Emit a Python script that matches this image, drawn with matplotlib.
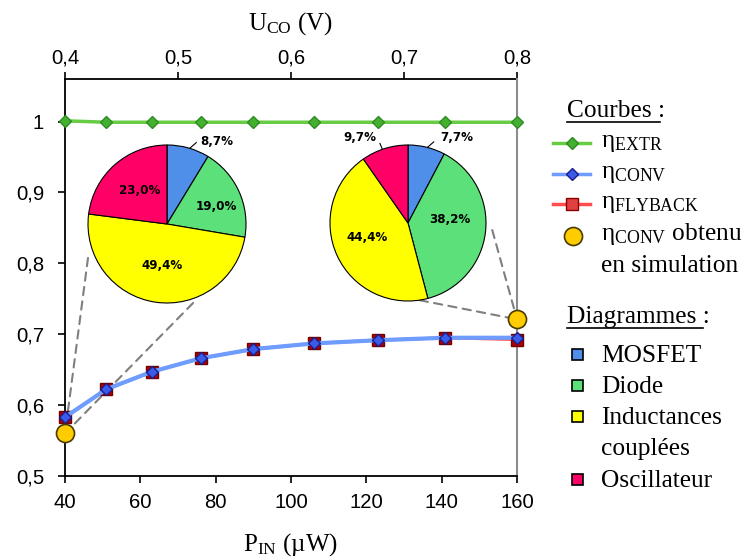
import matplotlib
matplotlib.use('Agg')
import matplotlib.pyplot as plt
from matplotlib.lines import Line2D
from matplotlib.patches import Rectangle, ConnectionPatch
from matplotlib.ticker import FuncFormatter

plt.rcParams['font.family'] = ['Liberation Sans', 'DejaVu Sans']
plt.rcParams['mathtext.fontset'] = 'custom'
plt.rcParams['mathtext.rm'] = 'Liberation Serif'
plt.rcParams['mathtext.it'] = 'Liberation Serif:italic'
plt.rcParams['mathtext.bf'] = 'Liberation Serif:bold'

# ---------------- data ----------------
p_in = [40, 51, 63, 76, 90, 106, 123, 141, 160]
eta_extr = [1.001, 0.999, 0.999, 0.999, 0.999, 0.999, 0.999, 0.999, 0.999]
eta_conv = [0.583, 0.6225, 0.647, 0.666, 0.679, 0.687, 0.6915, 0.695, 0.695]
eta_flyback = [0.583, 0.6225, 0.647, 0.666, 0.679, 0.687, 0.6915, 0.695, 0.6925]
sim_p = [40, 160]
sim_eta = [0.560, 0.721]

pie_categories = ['MOSFET', 'Diode', 'Inductances\ncouplées', 'Oscillateur']
pie_40uw = [8.7, 19.0, 49.4, 23.0]
pie_160uw = [7.7, 38.2, 44.4, 9.7]

p_ticks = [40, 60, 80, 100, 120, 140, 160]
u_ticks = [0.4, 0.5, 0.6, 0.7, 0.8]
y_ticks = [0.5, 0.6, 0.7, 0.8, 0.9, 1.0]

# ---------------- styles ----------------
W, H = 745, 560
pie_colors = ['#4F8FEA', '#5BE07A', '#FFFF00', '#FF0066']
SERIF = 'Liberation Serif'


def fx(x):
    return x / W


def fy(y):
    return 1 - y / H


def comma(v, pos=None):
    if abs(v - 1.0) < 1e-9:
        return '1'
    return f'{v:.1f}'.replace('.', ',')


fig = plt.figure(figsize=(W / 100, H / 100), dpi=100)
ax = fig.add_axes([fx(65), fy(476), (517 - 65) / W, (476 - 79) / H])
ax.set_xlim(40, 160)
ax.set_ylim(0.5, 1.06)

for s in ['left', 'bottom']:
    ax.spines[s].set_linewidth(1.3)
    ax.spines[s].set_color('black')
ax.spines['top'].set_visible(False)
ax.spines['right'].set_color('#8c8c8c')
ax.spines['right'].set_linewidth(1.5)

ax.set_xticks(p_ticks)
ax.set_yticks(y_ticks)
ax.yaxis.set_major_formatter(FuncFormatter(comma))
ax.tick_params(axis='x', direction='out', length=5, width=1.2, labelsize=14.6, pad=7)
ax.tick_params(axis='y', direction='out', length=5, width=1.2, labelsize=14.6, pad=10)

sec = ax.secondary_xaxis('top', functions=(lambda p: 0.4 + (p - 40) / 300.0,
                                           lambda u: 40 + (u - 0.4) * 300.0))
sec.set_xticks(u_ticks)
sec.xaxis.set_major_formatter(FuncFormatter(lambda v, pos: f'{v:.1f}'.replace('.', ',')))
sec.tick_params(direction='out', length=5, width=1.2, labelsize=14.6, pad=3)
sec.spines['top'].set_linewidth(1.3)

ax.set_xlabel(r'P$_{\mathrm{IN}}$ (µW)', fontsize=18, family=SERIF, labelpad=14)
sec.set_xlabel(r'U$_{\mathrm{CO}}$ (V)', fontsize=18, family=SERIF, labelpad=14)

# ---------------- curves ----------------
ax.plot(p_in, eta_flyback, color='#FF4D4D', lw=2.2, marker='s', ms=8.5,
        mfc='#B00000', mec='#700000', mew=1, zorder=3, clip_on=False)
ax.plot(p_in, eta_conv, color='#6E9CFF', lw=3, marker='D', ms=6,
        mfc='#3A5BE8', mec='#1C1C8C', mew=1, zorder=4, clip_on=False)
ax.plot(p_in, eta_extr, color='#66CC44', lw=2.5, marker='D', ms=6.5,
        mfc='#44B030', mec='#2E8B22', mew=1, zorder=4, clip_on=False)
ax.plot(sim_p, sim_eta, ls='none', marker='o', ms=13, mfc='#FFCC00',
        mec='#4a3c00', mew=1.2, zorder=6, clip_on=False)

# ---------------- pies ----------------
def make_pie(cx, cy, r, values, label_pos, leaders):
    pax = fig.add_axes([fx(cx - r), fy(cy + r), 2 * r / W, 2 * r / H])
    pax.pie(values, colors=pie_colors, startangle=90, counterclock=False, radius=1,
            wedgeprops=dict(edgecolor='black', linewidth=0.8))
    pax.set_xlim(-1, 1)
    pax.set_ylim(-1, 1)
    pax.set_aspect('auto')
    pax.axis('off')
    for v, (tx, ty) in zip(values, label_pos):
        pax.text(tx, ty, f'{v:.1f}'.replace('.', ',') + '%', ha='center', va='center',
                 fontsize=8.6, fontweight='bold', family=['DejaVu Sans'],
                 clip_on=False)
    for (x0, y0), (x1, y1) in leaders:
        pax.add_line(Line2D([x0, x1], [y0, y1], color='black', lw=0.8, clip_on=False))
    return pax


pax1 = make_pie(167, 224, 79, pie_40uw,
                [(0.63, 1.05), (0.62, 0.22), (-0.06, -0.53), (-0.34, 0.42)],
                [((0.29, 0.96), (0.37, 1.03))])
pax2 = make_pie(408, 223, 78, pie_160uw,
                [(0.62, 1.09), (0.54, 0.05), (-0.53, -0.19), (-0.62, 1.09)],
                [((0.25, 0.97), (0.33, 1.04)), ((-0.33, 0.95), (-0.36, 1.02))])

# dashed connectors from pies to simulated points
for pax, pts, target in [(pax1, [(-1.0, -0.43), (0.33, -1.0)], (sim_p[0], sim_eta[0])),
                         (pax2, [(1.08, -0.09), (0.15, -0.99)], (sim_p[1], sim_eta[1]))]:
    for pt in pts:
        con = ConnectionPatch(xyA=pt, coordsA=pax.transData, xyB=target, coordsB=ax.transData,
                              linestyle=(0, (4, 3)), color='#7f7f7f', lw=1.5, zorder=2)
        ax.add_artist(con)

# ---------------- legend (drawn) ----------------
LFS = 18.3
fig.text(fx(567), fy(117), 'Courbes :', fontsize=LFS, family=SERIF, va='baseline')
fig.add_artist(Line2D([fx(567), fx(660)], [fy(122), fy(122)], color='black', lw=1.2))

curve_entries = [
    (147, '#66CC44', 'D', '#44B030', '#2E8B22', 6.5, r'η$_{\mathrm{EXTR}}$'),
    (178, '#6E9CFF', 'D', '#3A5BE8', '#1C1C8C', 6, r'η$_{\mathrm{CONV}}$'),
    (208, '#FF4D4D', 's', '#E04040', '#8B0000', 9, r'η$_{\mathrm{FLYBACK}}$'),
]
for base, lc, mk, mfc, mec, ms, label in curve_entries:
    yl = base - 4
    fig.add_artist(Line2D([fx(553), fx(590)], [fy(yl), fy(yl)], color=lc, lw=2.5))
    fig.add_artist(Line2D([fx(572)], [fy(yl)], marker=mk, ms=ms, mfc=mfc, mec=mec, mew=1,
                          ls='none'))
    fig.text(fx(601), fy(base), label, fontsize=LFS, family=SERIF, va='baseline')

fig.add_artist(Line2D([fx(573)], [fy(236)], marker='o', ms=13, mfc='#FFCC00', mec='#4a3c00',
                      mew=1.2, ls='none'))
fig.text(fx(601), fy(240), r'η$_{\mathrm{CONV}}$ obtenu', fontsize=LFS, family=SERIF,
         va='baseline')
fig.text(fx(601), fy(272), 'en simulation', fontsize=LFS, family=SERIF, va='baseline')

fig.text(fx(567), fy(323), 'Diagrammes :', fontsize=LFS, family=SERIF, va='baseline')
fig.add_artist(Line2D([fx(567), fx(703)], [fy(328), fy(328)], color='black', lw=1.2))

bases = [362, 393, 424, 487]
for cat, col, base in zip(pie_categories, pie_colors, bases):
    yc = base - 8
    fig.add_artist(Rectangle((fx(572), fy(yc + 5.5)), 11 / W, 11 / H, facecolor=col,
                             edgecolor='black', lw=1.2))
    lines = cat.split('\n')
    fig.text(fx(601), fy(base), lines[0], fontsize=LFS, family=SERIF, va='baseline')
    if len(lines) > 1:
        fig.text(fx(601), fy(base + 31), lines[1], fontsize=LFS, family=SERIF, va='baseline')

fig.savefig('out.png', dpi=100)
